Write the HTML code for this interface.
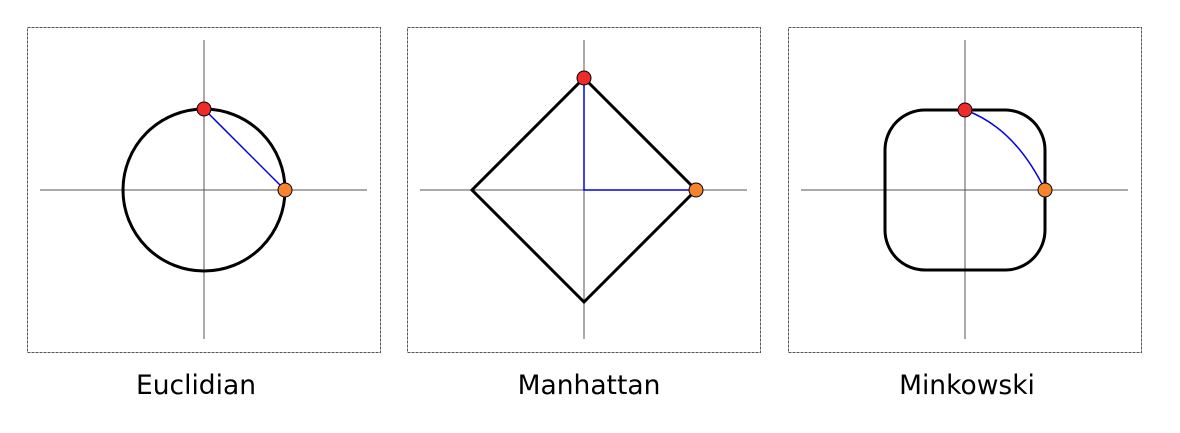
<!DOCTYPE html>
<html><head><meta charset="utf-8"><style>
html,body{margin:0;padding:0;background:#fff;}
svg{display:block;}
text{font-family:"DejaVu Sans","Liberation Sans",sans-serif;font-size:26.5px;fill:#000;}
</style></head><body>
<svg width="1180" height="433" viewBox="0 0 1180 433">
<g id="root"></g>
</svg>
<script>
const panelNames = ["Euclidian","Manhattan","Minkowski"];
const panelLefts = [27,407,788];
const unitRadius = [81,112,80];
const pointA = [0,1];
const pointB = [1,0];
const titleShift = [-8,5,2];
const NS="http://www.w3.org/2000/svg";
const root=document.getElementById('root');
function mk(tag,attrs,parent){const e=document.createElementNS(NS,tag);for(const k in attrs)e.setAttribute(k,attrs[k]);(parent||root).appendChild(e);return e;}
panelNames.forEach((name,i)=>{
  const x0=panelLefts[i];
  const g=mk('g',{});
  
  
  const frame=mk('rect',{x:x0+0.5,y:27.5,width:353,height:325,fill:'none',stroke:'#555','stroke-width':1,'stroke-dasharray':'3,1'},g);
  
  
  const cx=x0+177, cy=190, r=unitRadius[i];
  const sx=v=>cx+v*r, sy=v=>cy-v*r;
  const xa=mk('line',{x1:x0+13,y1:cy,x2:x0+340,y2:cy,stroke:'#555','stroke-width':1},g);
  
  
  const ya=mk('line',{x1:cx,y1:40,x2:cx,y2:339,stroke:'#555','stroke-width':1},g);
  
  
  let shape, path;
  if(i===0){
    shape=mk('circle',{cx:cx,cy:cy,r:r,fill:'none',stroke:'#000','stroke-width':3},g);
    path=mk('line',{x1:sx(pointA[0]),y1:sy(pointA[1]),x2:sx(pointB[0]),y2:sy(pointB[1]),stroke:'#0000ee','stroke-width':1.5},g);
  } else if(i===1){
    shape=mk('polygon',{points:[[sx(0),sy(1)],[sx(1),sy(0)],[sx(0),sy(-1)],[sx(-1),sy(0)]].map(p=>p.join(',')).join(' '),fill:'none',stroke:'#000','stroke-width':3},g);
    path=mk('polyline',{points:`${sx(pointA[0])},${sy(pointA[1])} ${sx(0)},${sy(0)} ${sx(pointB[0])},${sy(pointB[1])}`,fill:'none',stroke:'#0000ee','stroke-width':1.5},g);
  } else {
    shape=mk('rect',{x:sx(-1),y:sy(1),width:2*r,height:2*r,rx:r*0.5,ry:r*0.5,fill:'none',stroke:'#000','stroke-width':3},g);
    path=mk('path',{d:`M${sx(pointA[0])},${sy(pointA[1])} Q${sx(0.62)},${sy(0.78)} ${sx(pointB[0])},${sy(pointB[1])}`,fill:'none',stroke:'#0000ee','stroke-width':1.5},g);
  }
  
  
  
  
  const a=mk('circle',{cx:sx(pointA[0]),cy:sy(pointA[1]),r:7,fill:'#ee2a2a',stroke:'#000','stroke-width':1},g);
  
  
  const b=mk('circle',{cx:sx(pointB[0]),cy:sy(pointB[1]),r:7,fill:'#f7842c',stroke:'#000','stroke-width':1},g);
  
  
  const t=mk('text',{x:cx+titleShift[i],y:394,'text-anchor':'middle'},g);
  t.textContent=name;
  
  
});
</script>
</body></html>
